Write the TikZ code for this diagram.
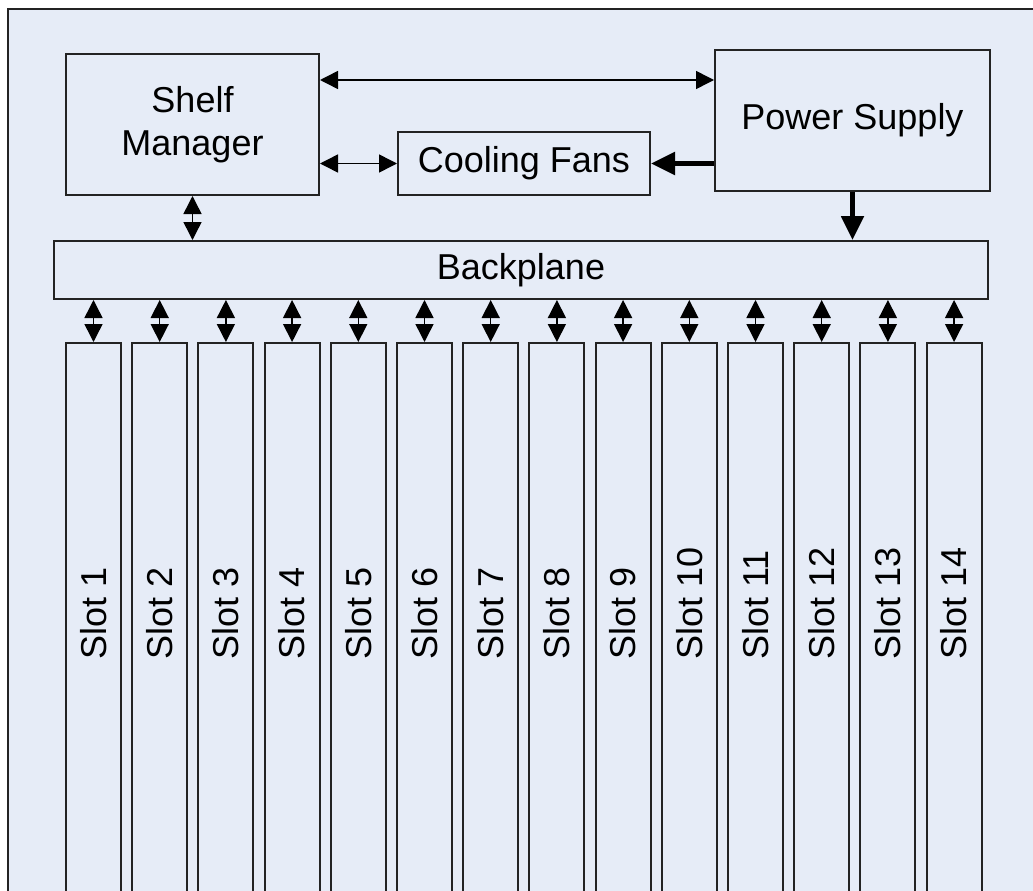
\documentclass[tikz,border=0pt]{standalone}
\usepackage{fontspec}
\setmainfont{Liberation Sans}
\usetikzlibrary{arrows.meta, positioning}
\definecolor{shelfbg}{RGB}{230, 236, 247}
\definecolor{shelfline}{RGB}{35, 35, 35}

\begin{document}
\begin{tikzpicture}[x=1pt, y=-1pt, font=\fontsize{36}{43}\selectfont,
  box/.style={draw=shelfline, line width=2pt, fill=shelfbg, inner sep=0pt, anchor=north west, align=center},
  slot/.style={box, minimum width=55pt, minimum height=580pt},
  slotlabel/.style={rotate=90, anchor=west, inner sep=0pt},
  link/.style={{Triangle[length=18pt,width=18pt]}-{Triangle[length=18pt,width=18pt]}, line width=1.5pt},
  feed/.style={-{Triangle[length=24pt,width=22pt]}, line width=5pt}]
  \useasboundingbox (0,0) rectangle (1033,891);
  \clip (0,0) rectangle (1033,891);
  % shelf outline
  \draw[draw=shelfline, line width=2pt, fill=shelfbg] (8,9) rectangle (1060,920);

  \node[box, minimum width=253pt, minimum height=141pt] (sm) at (65,53) {Shelf\\Manager};
  \node[box, minimum width=275pt, minimum height=141pt] (ps) at (714,49) {Power Supply};
  \node[box, minimum width=252pt, minimum height=63pt] (cf) at (397,131) {Cooling Fans};
  \node[box, minimum width=934pt, minimum height=58pt] (bp) at (53,240) {Backplane};

  % slots and their links to the backplane
  \foreach \i in {1,...,14} {
    \pgfmathsetmacro{\xs}{65+66.2*(\i-1)}
    \node[slot] (s\i) at (\xs,342) {};
    \node[slotlabel] (l\i) at ([yshift=-318pt]s\i.north) {Slot \i};
    \draw[link] (s\i.north |- bp.south) -- (s\i.north);
  }

  \draw[link] ([yshift=-27pt]sm.north east) -- ([yshift=-27pt]sm.north east -| ps.west);
  \draw[link] (cf.west -| sm.east) -- (cf.west);
  \draw[link] (sm.south) -- (sm.south |- bp.north);
  \draw[feed] (cf.east -| ps.west) -- (cf.east);
  \draw[feed] (ps.south) -- (ps.south |- bp.north);
\end{tikzpicture}
\end{document}
